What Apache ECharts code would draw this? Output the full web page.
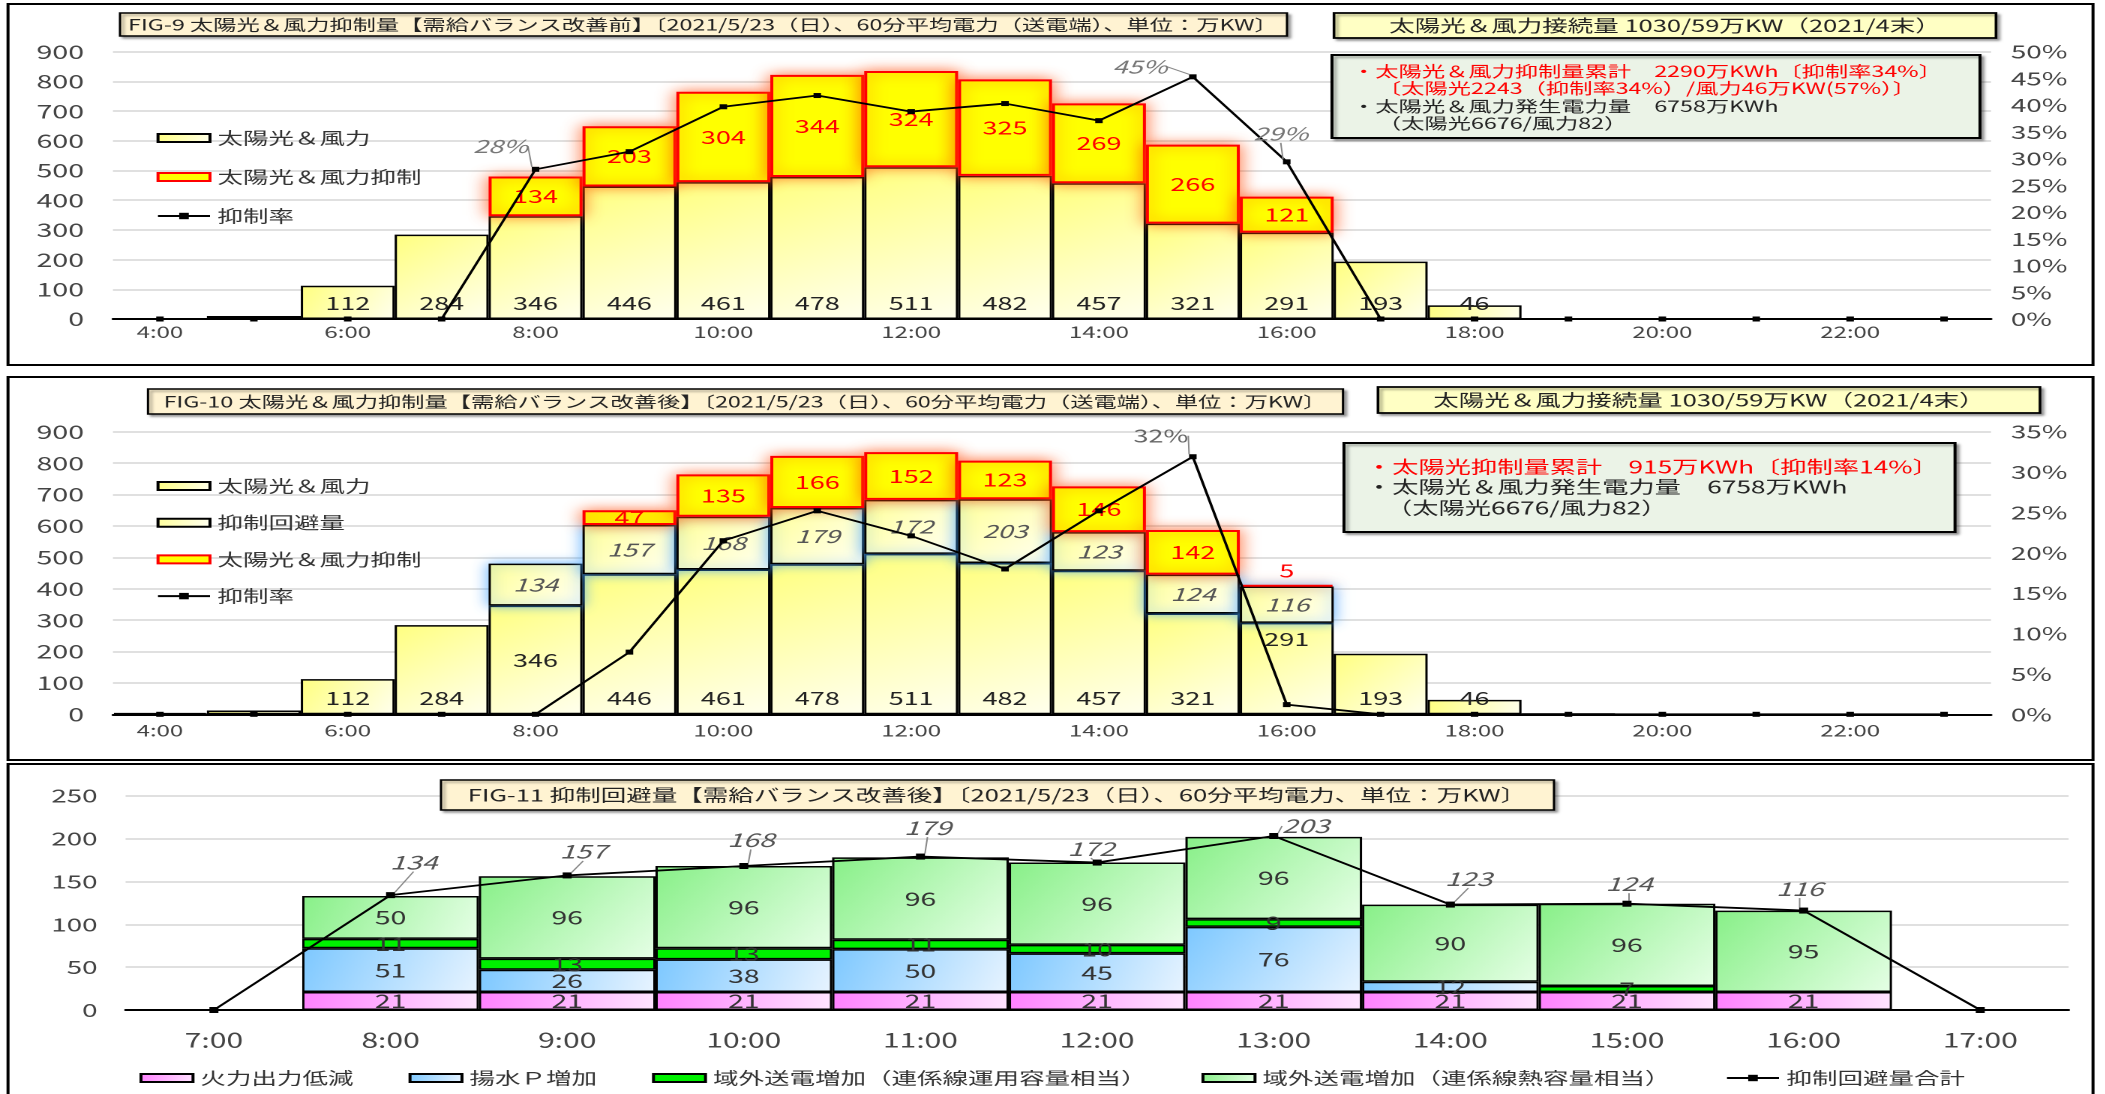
<!DOCTYPE html>
<html><head><meta charset="utf-8">
<script src="https://cdn.jsdelivr.net/npm/echarts@6/dist/echarts.min.js"></script>
<style>
html,body{margin:0;padding:0;overflow:hidden;background:#fff;width:2105px;height:1094px}
#c{width:1404px;height:1094px;transform:scaleX(1.5);transform-origin:0 0}
</style>
</head><body><div id="c"></div>
<script>
// ---------- data ----------
const hours = ['4:00','5:00','6:00','7:00','8:00','9:00','10:00','11:00','12:00','13:00','14:00','15:00','16:00','17:00','18:00','19:00','20:00','21:00','22:00','23:00'];
// FIG-9 (before improvement)
const base1    = [2, 10, 112, 284, 346, 446, 461, 478, 511, 482, 457, 321, 291, 193, 46, 0, 0, 0, 0, 0];
const curtail1 = [0, 0, 0, 0, 134, 203, 304, 344, 324, 325, 269, 266, 121, 0, 0, 0, 0, 0, 0, 0];
const rate1    = [0, 0, 0, 0, 28, 31.3, 39.7, 41.8, 38.8, 40.3, 37.1, 45.3, 29.4, 0, 0, 0, 0, 0, 0, 0];
// FIG-10 (after improvement)
const base2    = [4, 12, 112, 284, 346, 446, 461, 478, 511, 482, 457, 321, 291, 193, 46, 2, 0, 0, 0, 0];
const avoid2   = [0, 0, 0, 0, 134, 157, 168, 179, 172, 203, 123, 124, 116, 0, 0, 0, 0, 0, 0, 0];
const curtail2 = [0, 0, 0, 0, 0, 47, 135, 166, 152, 123, 146, 142, 5, 0, 0, 0, 0, 0, 0, 0];
const rate2    = [0, 0, 0, 0, 0, 7.7, 21.5, 25.2, 22.1, 18.0, 25.2, 31.9, 1.2, 0, 0, 0, 0, 0, 0, 0];
// FIG-11 (avoided curtailment breakdown)
const hours3   = ['7:00','8:00','9:00','10:00','11:00','12:00','13:00','14:00','15:00','16:00','17:00'];
const thermalCut = [0, 21, 21, 21, 21, 21, 21, 21, 21, 21, 0];
const pumpUp     = [0, 51, 26, 38, 50, 45, 76, 12, 0, 0, 0];
const tieOper    = [0, 11, 13, 13, 11, 10, 9, 0, 7, 0, 0];
const tieHeat    = [0, 50, 96, 96, 96, 96, 96, 90, 96, 95, 0];
const avoidTotal = [0, 134, 157, 168, 179, 172, 203, 123, 124, 116, 0];
// axis ticks
const leftTicks12 = {min: 0, max: 900, interval: 100};
const rightTicks1 = {min: 0, max: 50, interval: 5};
const rightTicks2 = {min: 0, max: 35, interval: 5};
const leftTicks3  = {min: 0, max: 250, interval: 50};

// ---------- styling helpers ----------
const S = 1.5;                 // page is drawn narrow and stretched horizontally
const X = v => v / S;
const FONT = '"Noto Sans CJK JP","Noto Sans",sans-serif';
const grad = (c0, c1) => ({type:'linear', x:0, y:0, x2:1, y2:1, colorStops:[{offset:0,color:c0},{offset:1,color:c1}]});
const yellowGrad = grad('#FFFF80', '#FFFFEE');
const avoidGrad = grad('#FFFF9A', '#FFFFF4');

function barItems(arr, opt) {
  opt = opt || {};
  return arr.map((v, i) => {
    const it = {value: v === 0 ? '-' : v};
    if (v < (opt.minLabel || 1)) it.label = {show: false};
    else if (opt.pos && opt.pos[i]) it.label = {position: opt.pos[i]};
    return it;
  });
}
function lineItems(arr, showIdx) {
  return arr.map((v, i) => showIdx.indexOf(i) >= 0 ? {value: v, label: {show: true}} : v);
}
const valLabel = (extra) => Object.assign({show: true, fontFamily: FONT, fontSize: 18, color: '#222'}, extra || {});

const pctOff1 = {4: [-35, -23], 11: [-53, -10], 12: [-6, -28]};
const pctOff2 = {11: [-32, -21]};
const totOff3 = {1: [23, -33], 2: [16, -24], 3: [7, -26], 4: [7, -29], 5: [-6, -14], 6: [32, -10], 7: [18, -26], 8: [2, -20], 9: [-4, -22]};
const layoutFrom = offs => (p => { const o = offs[p.dataIndex]; return o ? {dx: X(o[0]), dy: o[1]} : {}; });

const axisLab = (size, margin, extra) => Object.assign({fontFamily: FONT, fontSize: size, color: '#444', margin: margin}, extra || {});
const splitL = {show: true, lineStyle: {color: '#D6D6D6', width: 1.5}};
const baseAxisLine = {show: true, lineStyle: {color: '#000', width: 2}};

const baseStyle = {color: yellowGrad, borderColor: '#000', borderWidth: 1.5};
const curtStyle = {color: '#FFFF00', borderColor: '#FF0000', borderWidth: 2, shadowBlur: 12, shadowColor: 'rgba(255,70,0,0.75)'};
const avoidStyle = {color: avoidGrad, borderColor: '#000', borderWidth: 1.5, shadowBlur: 10, shadowColor: 'rgba(60,160,255,0.8)'};
const lineStyleBlack = {color: '#000', width: 1.8};

// ---------- graphics (frames, titles, notes) ----------
function box(x1, y1, x2, y2, fill, z, lw, shadow) {
  const s = {fill: fill, stroke: '#000', lineWidth: lw || 1.5};
  if (shadow) Object.assign(s, {shadowBlur: 2, shadowOffsetX: 2, shadowOffsetY: 2, shadowColor: 'rgba(0,0,0,0.35)'});
  return {type: 'rect', z: z, shape: {x: X(x1), y: y1, width: X(x2 - x1), height: y2 - y1}, style: s};
}
function txt(x, y, text, size, color, align) {
  return {type: 'text', z: 120, x: X(x), y: y, style: {text: text, fill: color || '#222', fontFamily: FONT, fontSize: size, align: align || 'left', verticalAlign: 'middle'}};
}
const graphics = [
  {type: 'rect', z: -10, shape: {x: X(8), y: 4, width: X(2085), height: 361}, style: {fill: 'none', stroke: '#000', lineWidth: 2}},
  {type: 'rect', z: -10, shape: {x: X(8), y: 377, width: X(2085), height: 383}, style: {fill: 'none', stroke: '#000', lineWidth: 2}},
  {type: 'rect', z: -10, shape: {x: X(8), y: 764, width: X(2085), height: 340}, style: {fill: 'none', stroke: '#000', lineWidth: 2}},
  // FIG-9
  box(120, 13, 1287, 36, '#FFF3D2', 110, 1.5, true),
  txt(703, 24.5, 'FIG-9 太陽光＆風力抑制量【需給バランス改善前】〔2021/5/23（日）、60分平均電力（送電端）、単位：万KW〕', 15.5, '#222', 'center'),
  box(1334, 13, 1996, 38, '#FFFFC4', 110, 1.8, true),
  txt(1665, 25.5, '太陽光＆風力接続量 1030/59万KW（2021/4末）', 17, '#222', 'center'),
  box(1332, 55, 1980, 138, '#EBF3E7', 110, 2, true),
  txt(1352, 71, '・太陽光＆風力抑制量累計　2290万KWh〔抑制率34%〕', 15.5, '#FF0000'),
  txt(1378, 88, '〔太陽光2243（抑制率34%）/風力46万KW(57%）〕', 15.5, '#FF0000'),
  txt(1352, 106, '・太陽光＆風力発生電力量　6758万KWh', 15.5, '#222'),
  txt(1378, 123, '（太陽光6676/風力82）', 15.5, '#222'),
  // FIG-10
  box(148, 389, 1343, 414, '#FFF3D2', 110, 1.5, true),
  txt(745, 401.5, 'FIG-10 太陽光＆風力抑制量【需給バランス改善後】〔2021/5/23（日）、60分平均電力（送電端）、単位：万KW〕', 15.5, '#222', 'center'),
  box(1378, 387, 2040, 413, '#FFFFC4', 110, 1.8, true),
  txt(1709, 400, '太陽光＆風力接続量 1030/59万KW（2021/4末）', 17, '#222', 'center'),
  box(1344, 443, 1955, 532, '#EBF3E7', 110, 2, true),
  txt(1366, 467, '・太陽光抑制量累計　915万KWh〔抑制率14%〕', 17.5, '#FF0000'),
  txt(1366, 487, '・太陽光＆風力発生電力量　6758万KWh', 17.5, '#222'),
  txt(1386, 508, '（太陽光6676/風力82）', 17.5, '#222'),
  // FIG-11
  box(441, 780, 1554, 810, '#FFF3D2', 110, 1.5, true),
  txt(997, 795, 'FIG-11 抑制回避量【需給バランス改善後】〔2021/5/23（日）、60分平均電力、単位：万KW〕', 17, '#222', 'center')
];

// ---------- option ----------
const legText = {fontFamily: FONT, fontSize: 17, color: '#333', lineHeight: 20};
const option = {
  animation: false,
  backgroundColor: '#fff',
  textStyle: {fontFamily: FONT},
  graphic: graphics,
  legend: [
    {left: X(149), top: 123, orient: 'vertical', itemWidth: X(52), itemHeight: 8, itemGap: 19, textStyle: legText, selectedMode: false,
     data: [{name: '太陽光＆風力', icon: 'rect'}, {name: '太陽光＆風力抑制', icon: 'rect'}, {name: '抑制率'}]},
    {left: X(149), top: 471, orient: 'vertical', itemWidth: X(52), itemHeight: 8, itemGap: 16.7, textStyle: legText, selectedMode: false,
     data: [{name: '太陽光＆風力', icon: 'rect'}, {name: '抑制回避量', icon: 'rect'}, {name: '太陽光＆風力抑制', icon: 'rect'}, {name: '抑制率'}]},
    {left: X(132), top: 1063, orient: 'horizontal', itemWidth: X(52), itemHeight: 8, itemGap: X(55), textStyle: legText, selectedMode: false,
     data: [{name: '火力出力低減', icon: 'rect'}, {name: '揚水Ｐ増加', icon: 'rect'}, {name: '域外送電増加（連係線運用容量相当）', icon: 'rect'}, {name: '域外送電増加（連係線熱容量相当）', icon: 'rect'}, {name: '抑制回避量合計'}]}
  ],
  grid: [
    {left: X(113), width: X(1878), top: 51.7, height: 267.3},
    {left: X(113), width: X(1878), top: 431.7, height: 282.6},
    {left: X(125.6), width: X(1943), top: 795.7, height: 214.3}
  ],
  xAxis: [
    {type: 'category', gridIndex: 0, data: hours, axisTick: {show: false}, axisLine: baseAxisLine, axisLabel: axisLab(16, 5, {interval: 1})},
    {type: 'category', gridIndex: 1, data: hours, axisTick: {show: false}, axisLine: baseAxisLine, axisLabel: axisLab(16, 8, {interval: 1})},
    {type: 'category', gridIndex: 2, data: hours3, axisTick: {show: false}, axisLine: baseAxisLine, axisLabel: axisLab(20, 20, {interval: 0})}
  ],
  yAxis: [
    Object.assign({type: 'value', gridIndex: 0, axisLine: {show: false}, axisTick: {show: false}, splitLine: splitL, axisLabel: axisLab(19, X(29))}, leftTicks12),
    Object.assign({type: 'value', gridIndex: 0, position: 'right', axisLine: {show: false}, axisTick: {show: false}, splitLine: {show: false}, axisLabel: axisLab(18.5, X(20), {formatter: '{value}%'})}, rightTicks1),
    Object.assign({type: 'value', gridIndex: 1, axisLine: {show: false}, axisTick: {show: false}, splitLine: splitL, axisLabel: axisLab(19, X(29))}, leftTicks12),
    Object.assign({type: 'value', gridIndex: 1, position: 'right', axisLine: {show: false}, axisTick: {show: false}, splitLine: {show: false}, axisLabel: axisLab(18.5, X(20), {formatter: '{value}%'})}, rightTicks2),
    Object.assign({type: 'value', gridIndex: 2, axisLine: {show: false}, axisTick: {show: false}, splitLine: splitL, axisLabel: axisLab(18.5, X(28))}, leftTicks3)
  ],
  series: [
    // FIG-9
    {name: '太陽光＆風力', type: 'bar', xAxisIndex: 0, yAxisIndex: 0, stack: 'p1', barCategoryGap: '0%',
     itemStyle: baseStyle, label: valLabel({position: 'insideBottom', distance: 7}), data: barItems(base1, {minLabel: 40})},
    {name: '太陽光＆風力抑制', type: 'bar', xAxisIndex: 0, yAxisIndex: 0, stack: 'p1', barCategoryGap: '0%',
     itemStyle: curtStyle, label: valLabel({position: 'inside', color: '#FF0000'}), data: barItems(curtail1)},
    {name: '抑制率', type: 'line', xAxisIndex: 0, yAxisIndex: 1, symbol: 'rect', symbolSize: 5, z: 5,
     lineStyle: lineStyleBlack, itemStyle: {color: '#000'},
     label: {show: false, position: 'inside', formatter: p => Math.round(p.value) + '%', fontFamily: FONT, fontSize: 18, fontStyle: 'italic', color: '#777'},
     labelLine: {show: true, lineStyle: {color: '#888', width: 1}}, labelLayout: layoutFrom(pctOff1),
     data: lineItems(rate1, [4, 11, 12])},
    // FIG-10
    {name: '太陽光＆風力', type: 'bar', xAxisIndex: 1, yAxisIndex: 2, stack: 'p2', barCategoryGap: '0%',
     itemStyle: baseStyle, label: valLabel({position: 'insideBottom', distance: 7}), data: barItems(base2, {minLabel: 40, pos: {4: 'inside', 12: 'insideTop'}})},
    {name: '抑制回避量', type: 'bar', xAxisIndex: 1, yAxisIndex: 2, stack: 'p2', barCategoryGap: '0%',
     itemStyle: avoidStyle, label: valLabel({position: 'inside', fontStyle: 'italic', color: '#555'}), data: barItems(avoid2)},
    {name: '太陽光＆風力抑制', type: 'bar', xAxisIndex: 1, yAxisIndex: 2, stack: 'p2', barCategoryGap: '0%',
     itemStyle: curtStyle, label: valLabel({position: 'inside', color: '#FF0000'}), data: barItems(curtail2, {pos: {12: 'top'}})},
    {name: '抑制率', type: 'line', xAxisIndex: 1, yAxisIndex: 3, symbol: 'rect', symbolSize: 5, z: 5,
     lineStyle: lineStyleBlack, itemStyle: {color: '#000'},
     label: {show: false, position: 'inside', formatter: p => Math.round(p.value) + '%', fontFamily: FONT, fontSize: 18, color: '#666'},
     labelLine: {show: true, lineStyle: {color: '#888', width: 1}}, labelLayout: layoutFrom(pctOff2),
     data: lineItems(rate2, [11])},
    // FIG-11
    {name: '火力出力低減', type: 'bar', xAxisIndex: 2, yAxisIndex: 4, stack: 'p3', barCategoryGap: '0%',
     itemStyle: {color: grad('#FF80FF', '#FFE6FF'), borderColor: '#000', borderWidth: 1.5},
     label: valLabel({position: 'inside', fontSize: 19, color: '#333'}), data: barItems(thermalCut)},
    {name: '揚水Ｐ増加', type: 'bar', xAxisIndex: 2, yAxisIndex: 4, stack: 'p3', barCategoryGap: '0%',
     itemStyle: {color: grad('#7DC8FF', '#E8F4FF'), borderColor: '#000', borderWidth: 1.5},
     label: valLabel({position: 'inside', fontSize: 19, color: '#333'}), data: barItems(pumpUp)},
    {name: '域外送電増加（連係線運用容量相当）', type: 'bar', xAxisIndex: 2, yAxisIndex: 4, stack: 'p3', barCategoryGap: '0%',
     itemStyle: {color: '#00F000', borderColor: '#000', borderWidth: 1.5},
     label: valLabel({position: 'inside', fontSize: 19, color: '#333'}), data: barItems(tieOper)},
    {name: '域外送電増加（連係線熱容量相当）', type: 'bar', xAxisIndex: 2, yAxisIndex: 4, stack: 'p3', barCategoryGap: '0%',
     itemStyle: {color: grad('#88F088', '#E6FFE6'), borderColor: '#000', borderWidth: 1.5},
     label: valLabel({position: 'inside', fontSize: 19, color: '#333'}), data: barItems(tieHeat)},
    {name: '抑制回避量合計', type: 'line', xAxisIndex: 2, yAxisIndex: 4, symbol: 'rect', symbolSize: 6, z: 5,
     lineStyle: lineStyleBlack, itemStyle: {color: '#000'},
     label: {show: false, position: 'inside', fontFamily: FONT, fontSize: 19, fontStyle: 'italic', color: '#555'},
     labelLine: {show: true, lineStyle: {color: '#888', width: 1}}, labelLayout: layoutFrom(totOff3),
     data: lineItems(avoidTotal, [1, 2, 3, 4, 5, 6, 7, 8, 9])}
  ]
};
const chart = echarts.init(document.getElementById('c'), null, {devicePixelRatio: 2});
chart.setOption(option);
</script>
</body></html>
